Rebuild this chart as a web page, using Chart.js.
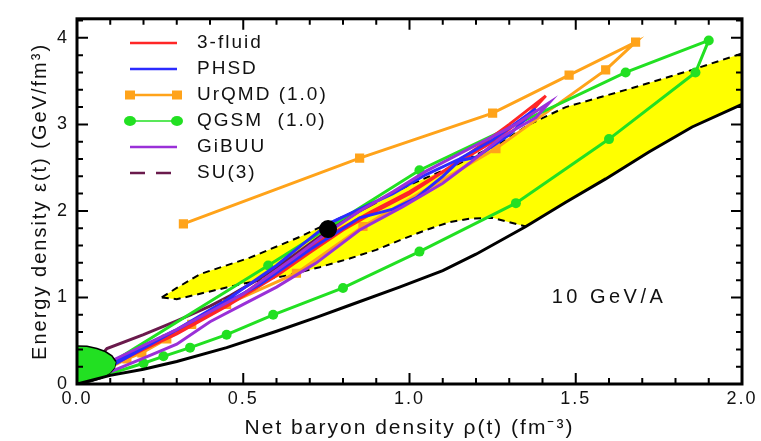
<!DOCTYPE html>
<html>
<head>
<meta charset="utf-8">
<script src="https://cdn.jsdelivr.net/npm/chart.js@4/dist/chart.umd.min.js"></script>
<style>
    html, body { margin: 0; padding: 0; background: #ffffff; }
    #contenedorGrafico { width: 761px; height: 441px; position: relative; }
</style>
</head>
<body>
<div id="contenedorGrafico"><canvas id="graficoDensidad"></canvas></div>
<script>
//////////////////////////////////////////////////////////////////////////////////////
/// DATOS (densidad barionica neta rho, densidad de energia epsilon) /////////////////
//////////////////////////////////////////////////////////////////////////////////////
const ticksX = [0, 0.5, 1.0, 1.5, 2.0];
const ticksY = [0, 1, 2, 3, 4];

const puntoNegro = [[0.755, 1.79]];

// limite inferior (linea negra continua)
const bordeNegro = [[0, 0], [0.1, 0.1], [0.2, 0.17], [0.3, 0.26], [0.45, 0.42], [0.6, 0.61], [0.72, 0.77],
    [0.82, 0.91], [0.97, 1.12], [1.1, 1.31], [1.2, 1.5], [1.35, 1.82], [1.47, 2.1], [1.59, 2.37],
    [1.72, 2.68], [1.85, 2.97], [2.0, 3.23]];

// region amarilla, bordes discontinuos
const amarilloArriba = [[0.255, 1.0], [0.3, 1.11], [0.37, 1.27], [0.52, 1.46], [0.67, 1.7], [0.73, 1.81],
    [0.85, 2.02], [1.0, 2.3], [1.15, 2.55], [1.28, 2.8], [1.36, 3.0], [1.47, 3.2], [1.57, 3.31],
    [1.67, 3.42], [1.85, 3.63], [2.0, 3.82]];
const amarilloAbajo = [[0.255, 1.0], [0.3, 0.98], [0.4, 1.07], [0.5, 1.16], [0.64, 1.26], [0.73, 1.35],
    [0.82, 1.45], [0.9, 1.55], [0.97, 1.66], [1.05, 1.78], [1.12, 1.87], [1.18, 1.91], [1.25, 1.92],
    [1.3, 1.87], [1.35, 1.82]];

// elipse verde en el origen
const elipseArriba = [[0, 0.44], [0.03, 0.435], [0.06, 0.41], [0.085, 0.375], [0.105, 0.325], [0.117, 0.26]];
const elipseAbajo = [[0, 0], [0.04, 0.025], [0.075, 0.07], [0.1, 0.13], [0.113, 0.19], [0.117, 0.26]];

// trayectorias de los modelos
const tresFluidos = [[0, 0], [0.1, 0.21], [0.2, 0.4], [0.3, 0.58], [0.45, 0.9], [0.6, 1.25], [0.7, 1.52],
    [0.8, 1.78], [0.9, 2.0], [1.0, 2.2], [1.1, 2.45], [1.2, 2.72], [1.3, 3.0], [1.41, 3.33], [1.36, 3.12],
    [1.25, 2.8], [1.12, 2.5], [1.0, 2.22], [0.88, 1.98], [0.75, 1.7], [0.62, 1.36], [0.5, 1.04],
    [0.35, 0.72], [0.2, 0.42], [0.08, 0.17], [0, 0]];
const phsd = [[0, 0], [0.1, 0.24], [0.2, 0.44], [0.3, 0.63], [0.45, 0.97], [0.6, 1.37], [0.7, 1.68],
    [0.76, 1.86], [0.85, 2.02], [0.95, 2.2], [1.05, 2.42], [1.15, 2.6], [1.25, 2.82], [1.38, 3.18],
    [1.3, 2.88], [1.2, 2.62], [1.15, 2.58], [1.1, 2.4], [1.02, 2.15], [0.95, 2.02], [0.85, 1.92],
    [0.7, 1.55], [0.55, 1.15], [0.4, 0.84], [0.25, 0.52], [0.1, 0.2], [0, 0]];
const gibuu = [[0, 0], [0.1, 0.26], [0.3, 0.63], [0.5, 1.04], [0.65, 1.45], [0.75, 1.74], [0.85, 2.0],
    [0.95, 2.22], [1.05, 2.46], [1.2, 2.76], [1.32, 3.0], [1.42, 3.25], [1.38, 3.08], [1.28, 2.86],
    [1.18, 2.55], [1.1, 2.32], [0.98, 2.05], [0.85, 1.78], [0.72, 1.4], [0.6, 1.12], [0.5, 0.92],
    [0.4, 0.72], [0.3, 0.46], [0.2, 0.3], [0.1, 0.14], [0, 0]];
const su3 = [[0, 0], [0.09, 0.41], [0.2, 0.57], [0.3, 0.73], [0.4, 0.9], [0.46, 1.02], [0.55, 1.22],
    [0.65, 1.48], [0.75, 1.76], [0.85, 2.0], [0.9, 2.1]];
const urqmd = [[0, 0], [0.15, 0.29], [0.195, 0.36], [0.27, 0.52], [0.345, 0.69], [0.45, 0.92], [0.66, 1.28],
    [0.86, 1.82], [1.26, 2.72], [1.59, 3.63], [1.68, 3.95], [1.48, 3.57], [1.25, 3.13], [0.85, 2.61],
    [0.32, 1.85]];
const qgsm = [[0, 0], [0.2, 0.24], [0.26, 0.32], [0.34, 0.42], [0.45, 0.57], [0.59, 0.8], [0.8, 1.11],
    [1.03, 1.53], [1.32, 2.09], [1.6, 2.83], [1.86, 3.6], [1.9, 3.97], [1.65, 3.6], [1.03, 2.47],
    [0.575, 1.37], [0, 0]];

const etiquetasLeyenda = ["3-fluid", "PHSD", "UrQMD (1.0)", "QGSM  (1.0)", "GiBUU", "SU(3)"];
const textoEnergia = "10 GeV/A";

//////////////////////////////////////////////////////////////////////////////////////
/// ESTILOS Y AYUDANTES ///////////////////////////////////////////////////////////////
//////////////////////////////////////////////////////////////////////////////////////
const fuente = "'Liberation Sans', Arial, Helvetica, sans-serif";
const colores = {
    rojo: "#ff2626", azul: "#2b2bff", naranja: "#ffa31a", verde: "#22e022",
    morado: "#9a30d8", granate: "#6a1a4c", amarillo: "#ffff00", negro: "#000000"
};

const aPuntos = arr => arr.map(([x, y]) => ({ x, y }));

function Linea(data, color, orden, extra) {
    return Object.assign({
        data: aPuntos(data),
        borderColor: color,
        backgroundColor: color,
        borderWidth: 3,
        pointRadius: 0,
        tension: 0,
        fill: false,
        order: orden
    }, extra || {});
}

//////////////////////////////////////////////////////////////////////////////////////
/// PLUGINS: MARCO CON TICKS, LEYENDA Y ETIQUETA //////////////////////////////////////
//////////////////////////////////////////////////////////////////////////////////////
const espaciadoTexto = {
    id: "espaciadoTexto",
    beforeDraw(chart) { chart.ctx.letterSpacing = "2px"; }
};

const marcoTicks = {
    id: "marcoTicks",
    afterDatasetsDraw(chart) {
        const { ctx, chartArea: a, scales: { x, y } } = chart;
        ctx.save();
        ctx.strokeStyle = "#000";
        ctx.lineWidth = 2;
        ctx.beginPath();
        for (let i = 0; i <= 20; i++) {
            const px = x.getPixelForValue(i / 10);
            const largo = i % 5 === 0 ? 11 : 6;
            ctx.moveTo(px, a.bottom); ctx.lineTo(px, a.bottom - largo);
            ctx.moveTo(px, a.top); ctx.lineTo(px, a.top + largo);
        }
        for (let i = 0; i <= 21; i++) {
            const py = y.getPixelForValue(i * 0.2);
            if (py < a.top) continue;
            const largo = i % 5 === 0 ? 11 : 6;
            ctx.moveTo(a.left, py); ctx.lineTo(a.left + largo, py);
            ctx.moveTo(a.right, py); ctx.lineTo(a.right - largo, py);
        }
        ctx.stroke();
        ctx.lineWidth = 3;
        ctx.strokeRect(a.left, a.top, a.right - a.left, a.bottom - a.top);
        ctx.restore();
    }
};

const leyendaModelos = {
    id: "leyendaModelos",
    afterDraw(chart) {
        const ctx = chart.ctx;
        const estilos = [
            { color: colores.rojo },
            { color: colores.azul },
            { color: colores.naranja, marca: "cuadro" },
            { color: colores.verde, marca: "circulo", ancho: 1.5 },
            { color: colores.morado },
            { color: colores.granate, guiones: [15, 11] }
        ];
        ctx.save();
        ctx.font = "19px " + fuente;
        ctx.letterSpacing = "2px";
        ctx.textBaseline = "middle";
        etiquetasLeyenda.forEach((texto, i) => {
            const e = estilos[i];
            const yy = 43 + i * 26;
            ctx.strokeStyle = e.color;
            ctx.fillStyle = e.color;
            ctx.lineWidth = e.ancho || 2.5;
            ctx.setLineDash(e.guiones || []);
            ctx.beginPath();
            ctx.moveTo(130, yy); ctx.lineTo(177, yy);
            ctx.stroke();
            ctx.setLineDash([]);
            if (e.marca === "cuadro") {
                ctx.fillRect(125, yy - 4.5, 10, 9);
                ctx.fillRect(172, yy - 4.5, 10, 9);
            } else if (e.marca === "circulo") {
                ctx.beginPath(); ctx.ellipse(130, yy, 6, 5, 0, 0, Math.PI * 2); ctx.fill();
                ctx.beginPath(); ctx.ellipse(177, yy, 6, 5, 0, 0, Math.PI * 2); ctx.fill();
            }
            ctx.fillStyle = "#111";
            ctx.fillText(texto, 197, yy);
        });

        const { x, y } = chart.scales;
        ctx.font = "20px " + fuente;
        ctx.letterSpacing = "3.5px";
        ctx.textAlign = "center";
        ctx.fillText(textoEnergia, x.getPixelForValue(1.6), y.getPixelForValue(1.0));
        ctx.restore();
    }
};

//////////////////////////////////////////////////////////////////////////////////////
/// GRAFICO ///////////////////////////////////////////////////////////////////////////
//////////////////////////////////////////////////////////////////////////////////////
function DibujarGrafico() {
    Chart.defaults.font.family = fuente;
    Chart.defaults.color = "#111";

    const datasets = [
        Linea(puntoNegro, colores.negro, 0, { showLine: false, pointRadius: 7.5 }),              // 0
        Linea(bordeNegro, colores.negro, 1),                                                      // 1
        Linea(elipseArriba, colores.negro, 2, { borderWidth: 1.5, fill: 3, backgroundColor: colores.verde }), // 2
        Linea(elipseAbajo, colores.negro, 2, { borderWidth: 1.5 }),                               // 3
        Linea(gibuu, colores.morado, 3),                                                          // 4
        Linea(phsd, colores.azul, 4),                                                             // 5
        Linea(tresFluidos, colores.rojo, 5),                                                      // 6
        Linea(qgsm, colores.verde, 6, { pointRadius: 5, pointStyle: "circle", pointBorderWidth: 0 }), // 7
        Linea(urqmd, colores.naranja, 7, { pointRadius: 6.5, pointStyle: "rect", pointBorderWidth: 0 }), // 8
        Linea(su3, colores.granate, 8),                                                           // 9
        Linea(amarilloArriba, colores.negro, 9, { borderWidth: 2, borderDash: [7, 5] }),          // 10
        Linea(amarilloAbajo, colores.negro, 9, { borderWidth: 2, borderDash: [7, 5] }),           // 11
        Linea(amarilloArriba, "transparent", 10, { borderWidth: 0, fill: 13, backgroundColor: colores.amarillo }), // 12
        Linea(amarilloAbajo.concat(bordeNegro.filter(p => p[0] > 1.35)), "transparent", 11, { borderWidth: 0 })    // 13
    ];

    new Chart(document.getElementById("graficoDensidad"), {
        type: "line",
        data: { datasets },
        options: {
            responsive: true,
            maintainAspectRatio: false,
            animation: false,
            events: [],
            layout: { padding: { top: 9, right: 19, left: 0, bottom: 0 } },
            plugins: {
                legend: { display: false },
                tooltip: { enabled: false }
            },
            scales: {
                x: {
                    type: "linear",
                    min: 0,
                    max: 2,
                    grid: { display: false, drawTicks: false },
                    border: { display: false },
                    afterBuildTicks: s => { s.ticks = ticksX.map(value => ({ value })); },
                    afterFit: s => { s.height = 57; },
                    ticks: {
                        padding: 4,
                        color: "#111",
                        font: { size: 18 },
                        callback: v => Number(v).toFixed(1)
                    },
                    title: {
                        display: true,
                        text: "Net baryon density \u03c1(t) (fm\u207b\u00b3)",
                        color: "#111",
                        font: { size: 21 },
                        padding: { top: 0, bottom: 0 }
                    }
                },
                y: {
                    type: "linear",
                    min: 0,
                    max: 4.22,
                    grid: { display: false, drawTicks: false },
                    border: { display: false },
                    afterBuildTicks: s => { s.ticks = ticksY.map(value => ({ value })); },
                    afterFit: s => { s.width = 77; },
                    ticks: {
                        padding: 8,
                        color: "#111",
                        font: { size: 18 },
                        callback: v => String(v)
                    },
                    title: {
                        display: true,
                        text: "Energy density \u03b5(t) (GeV/fm\u00b3)",
                        color: "#111",
                        font: { size: 20 },
                        padding: { top: 28, bottom: 0 }
                    }
                }
            }
        },
        plugins: [espaciadoTexto, marcoTicks, leyendaModelos]
    });
}

DibujarGrafico();
</script>
</body>
</html>
